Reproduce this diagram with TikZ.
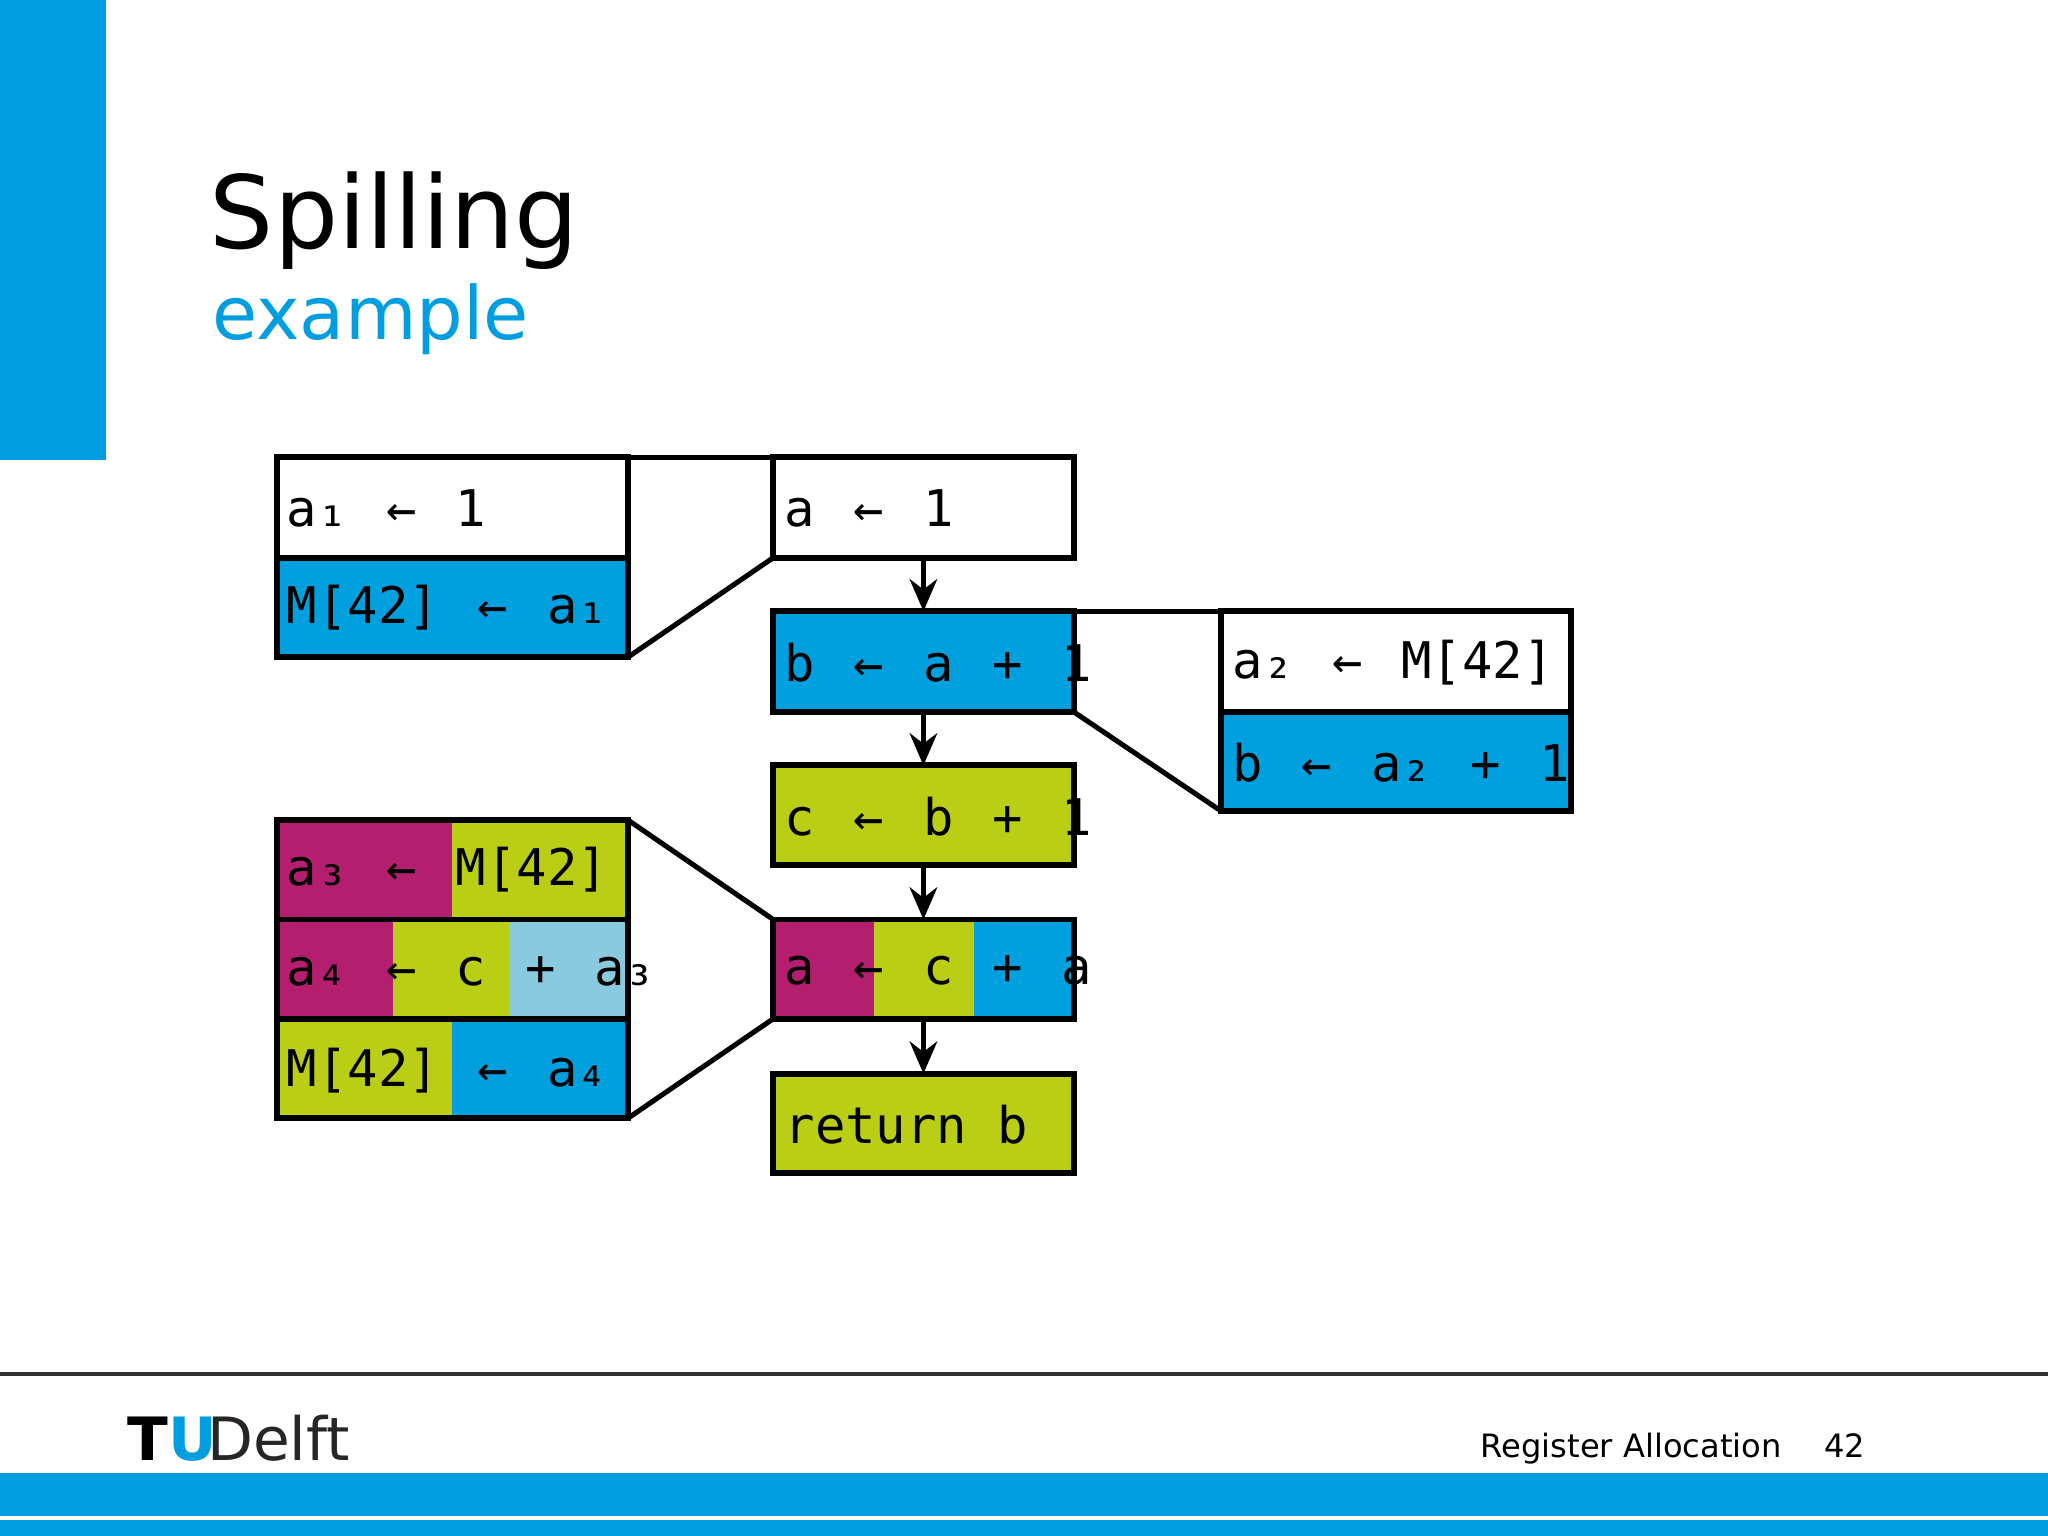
\documentclass[tikz,border=0pt]{standalone}
\usepackage{fontspec}
\setmainfont{DejaVu Sans}
\newfontfamily\codefont{DejaVu Sans Mono}
\usetikzlibrary{arrows.meta}
\definecolor{tublue}{RGB}{0,158,224}
\definecolor{bxblue}{RGB}{0,160,222}
\definecolor{mag}{RGB}{180,30,110}
\definecolor{lime}{RGB}{185,206,20}
\definecolor{lblue}{RGB}{138,202,222}
\tikzset{
  bx/.style={draw=black,line width=1.3pt},
  code/.style={anchor=west,inner sep=0pt,font=\codefont\fontsize{11}{13}\selectfont},
  conn/.style={line width=1.1pt},
  arr/.style={line width=1.1pt,-{Stealth[length=7pt,width=6pt]}}
}
\begin{document}
\begin{tikzpicture}[x=0.01cm,y=-0.01cm]
\useasboundingbox (0,0) rectangle (1568,1176);
\fill[tublue] (0,0) rectangle (81,352);
\node[anchor=base west,inner sep=0pt,font=\fontsize{22}{26}\selectfont] (title) at (160,190) {Spilling};
\node[anchor=base west,inner sep=0pt,font=\fontsize{16}{20}\selectfont,text=tublue] (sub) at (162,260) {example};
% left top
\fill[white] (212,350) rectangle (481,427);
\fill[bxblue] (212,427) rectangle (481,503);
\draw[bx] (212,350) rectangle (481,427);
\draw[bx] (212,427) rectangle (481,503);
\node[code] (l1) at (219,389) {a₁ \,← \,1};
\node[code] (l2) at (219,465) {M[42] \,← \,a₁};
% middle
\fill[bxblue] (592,468) rectangle (822,545);
\fill[lime] (592,586) rectangle (822,662);
\fill[mag] (592,704) rectangle (669,780);
\fill[lime] (669,704) rectangle (746,780);
\fill[bxblue] (746,704) rectangle (822,780);
\fill[lime] (592,822) rectangle (822,898);
\draw[bx] (592,350) rectangle (822,427) coordinate (m1);
\draw[bx] (592,468) rectangle (822,545);
\draw[bx] (592,586) rectangle (822,662);
\draw[bx] (592,704) rectangle (822,780);
\draw[bx] (592,822) rectangle (822,898);
\node[code] (ma) at (600,389) {a \,← \,1};
\node[code] (mb) at (600,507) {b \,← \,a \,+ \,1};
\node[code] (mc) at (600,625) {c \,← \,b \,+ \,1};
\node[code] (md) at (600,743) {a \,← \,c \,+ \,a};
\node[code] (me) at (600,861) {return b};
\coordinate (s1) at (707,427); \coordinate (t1) at (707,468);
\coordinate (s2) at (707,545); \coordinate (t2) at (707,586);
\coordinate (s3) at (707,662); \coordinate (t3) at (707,704);
\coordinate (s4) at (707,780); \coordinate (t4) at (707,822);
\draw[arr] (s1)--(t1); \draw[arr] (s2)--(t2); \draw[arr] (s3)--(t3); \draw[arr] (s4)--(t4);
% right
\fill[bxblue] (935,545) rectangle (1203,621);
\draw[bx] (935,468) rectangle (1203,545);
\draw[bx] (935,545) rectangle (1203,621);
\node[code] (r1) at (943,507) {a₂ \,← \,M[42]};
\node[code] (r2) at (943,584) {b \,← \,a₂ \,+ \,1};
% left bottom
\fill[mag] (212,628) rectangle (346,704);
\fill[lime] (346,628) rectangle (481,704);
\fill[mag] (212,704) rectangle (301,780);
\fill[lime] (301,704) rectangle (390,780);
\fill[lblue] (390,704) rectangle (481,780);
\fill[lime] (212,780) rectangle (346,856);
\fill[bxblue] (346,780) rectangle (481,856);
\draw[bx] (212,628) rectangle (481,704);
\draw[bx] (212,704) rectangle (481,780);
\draw[bx] (212,780) rectangle (481,856);
\node[code] (b1) at (219,666) {a₃ \,← \,M[42]};
\node[code] (b2) at (219,744) {a₄ \,← \,c \,+ \,a₃};
\node[code] (b3) at (219,820) {M[42] \,← \,a₄};
% connectors
\draw[conn] (481,350)--(592,350);
\draw[conn] (481,503)--(592,427);
\draw[conn] (822,468)--(935,468);
\draw[conn] (822,545)--(935,621);
\draw[conn] (481,628)--(592,704);
\draw[conn] (481,856)--(592,780);
% footer
\draw[line width=0.8pt,black!80] (0,1052)--(1568,1052);
\fill[tublue] (0,1128) rectangle (1568,1176);
\draw[white,line width=0.8pt] (0,1162)--(1568,1162);
\node[anchor=base west,inner sep=0pt,font=\bfseries\fontsize{13}{15}\selectfont] (tu) at (97,1118) {T\textcolor{tublue}{U}};
\node[anchor=base west,inner sep=0pt,font=\fontsize{13}{15}\selectfont,text=black!85] (delft) at (158,1118) {Delft};
\node[anchor=base west,inner sep=0pt,font=\fontsize{7}{9}\selectfont] (foot) at (1133,1116) {Register Allocation \quad 42};
\end{tikzpicture}
\end{document}
